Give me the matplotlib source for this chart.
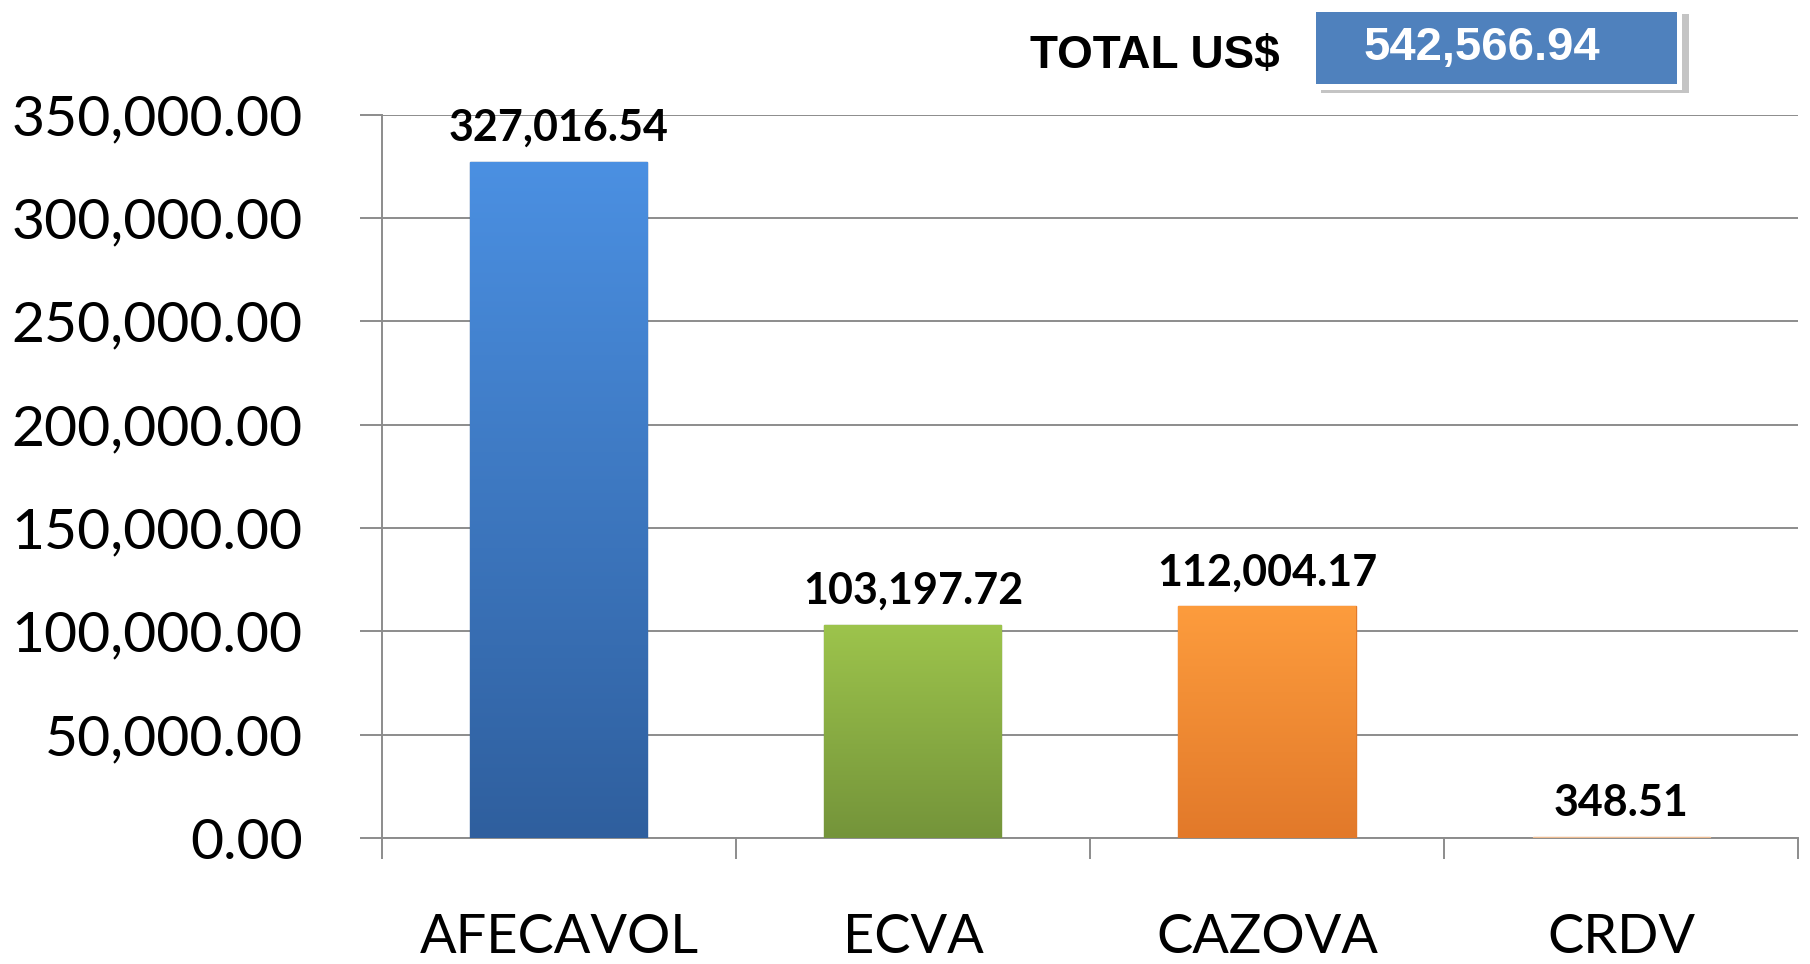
import numpy as np
import matplotlib.pyplot as plt
from matplotlib.patches import Rectangle
from matplotlib.ticker import FuncFormatter, MultipleLocator
from matplotlib.colors import LinearSegmentedColormap

# data
categories = ["AFECAVOL", "ECVA", "CAZOVA", "CRDV"]
values = [327016.54, 103197.72, 112004.17, 348.51]
value_labels = ["327,016.54", "103,197.72", "112,004.17", "348.51"]
total_label = "542,566.94"

# top / bottom colours of each bar gradient
top_colors = ["#4b90e2", "#9dc44c", "#fd9c3d", "#f3c9a0"]
bottom_colors = ["#2f5f9e", "#74943a", "#e2792a", "#e2a878"]

plt.rcParams['font.family'] = ['Lato', 'DejaVu Sans']

fig = plt.figure(figsize=(18.10, 9.64), dpi=100)
ax = fig.add_axes([0.211, 0.1307, 0.7824, 0.7505])

x = np.arange(len(categories))
bars = ax.bar(x, values, width=0.5, color=top_colors, zorder=3)

ax.set_xlim(-0.5, 3.5)
ax.set_ylim(0, 350000)

# vertical gradient on each bar
for b, c1, c2 in zip(bars, top_colors, bottom_colors):
    cmap = LinearSegmentedColormap.from_list("g", [c2, c1])
    grad = np.linspace(0, 1, 256).reshape(-1, 1)
    x0, y0, w, h = b.get_x(), b.get_y(), b.get_width(), b.get_height()
    im = ax.imshow(grad, cmap=cmap, aspect='auto', origin='lower',
                   extent=[x0, x0 + w, y0, y0 + h], zorder=4)
    im.set_clip_path(b)
    b.set_edgecolor(c2)
    b.set_linewidth(1.0)

for xi, v, lab in zip(x, values, value_labels):
    ax.annotate(lab, (xi, v), xytext=(0, 10), textcoords='offset points',
                ha='center', va='bottom', fontsize=31, fontweight='bold',
                color='black', zorder=5)

ax.yaxis.set_major_locator(MultipleLocator(50000))
ax.yaxis.set_major_formatter(FuncFormatter(lambda v, p: f"{v:,.2f}"))
ax.grid(axis='y', color='#8c8c8c', linewidth=1.4, zorder=0)
ax.set_axisbelow(True)

ax.set_xticks(x)
ax.set_xticklabels(categories)
ax.set_xticks(np.arange(-0.5, 4.0, 1.0), minor=True)
ax.tick_params(axis='x', which='major', length=0, pad=54, labelsize=39)
ax.tick_params(axis='x', which='minor', length=15, width=1.4, color='#8c8c8c')
ax.tick_params(axis='y', length=16, width=1.4, color='#8c8c8c', pad=41,
               labelsize=41)

for s in ['top', 'right']:
    ax.spines[s].set_visible(False)
for s in ['left', 'bottom']:
    ax.spines[s].set_color('#8c8c8c')
    ax.spines[s].set_linewidth(1.4)

# total box in the top right
W, H = 1810.0, 964.0
fig.patches.append(Rectangle(((1316 + 5) / W, 1 - (88 + 5) / H), 368 / W, 79 / H,
                             transform=fig.transFigure, facecolor='#c4c4c4',
                             edgecolor='none', zorder=1))
fig.patches.append(Rectangle((1310 / W, 1 - 90 / H), 372 / W, 82 / H,
                             transform=fig.transFigure, facecolor='white',
                             edgecolor='none', zorder=2))
fig.patches.append(Rectangle((1316 / W, 1 - 84 / H), 361 / W, 72.5 / H,
                             transform=fig.transFigure, facecolor='#4f81bd',
                             edgecolor='none', zorder=3))
fig.text(1482 / W, 1 - 48 / H, total_label, ha='center', va='center',
         fontsize=34, fontweight='bold', color='white',
         family=['Liberation Sans', 'DejaVu Sans'], zorder=4)
fig.text(1155 / W, 1 - 56 / H, "TOTAL US$", ha='center', va='center',
         fontsize=33, fontweight='bold', color='black',
         family=['Liberation Sans', 'DejaVu Sans'])

fig.savefig("out.png", dpi=100)
